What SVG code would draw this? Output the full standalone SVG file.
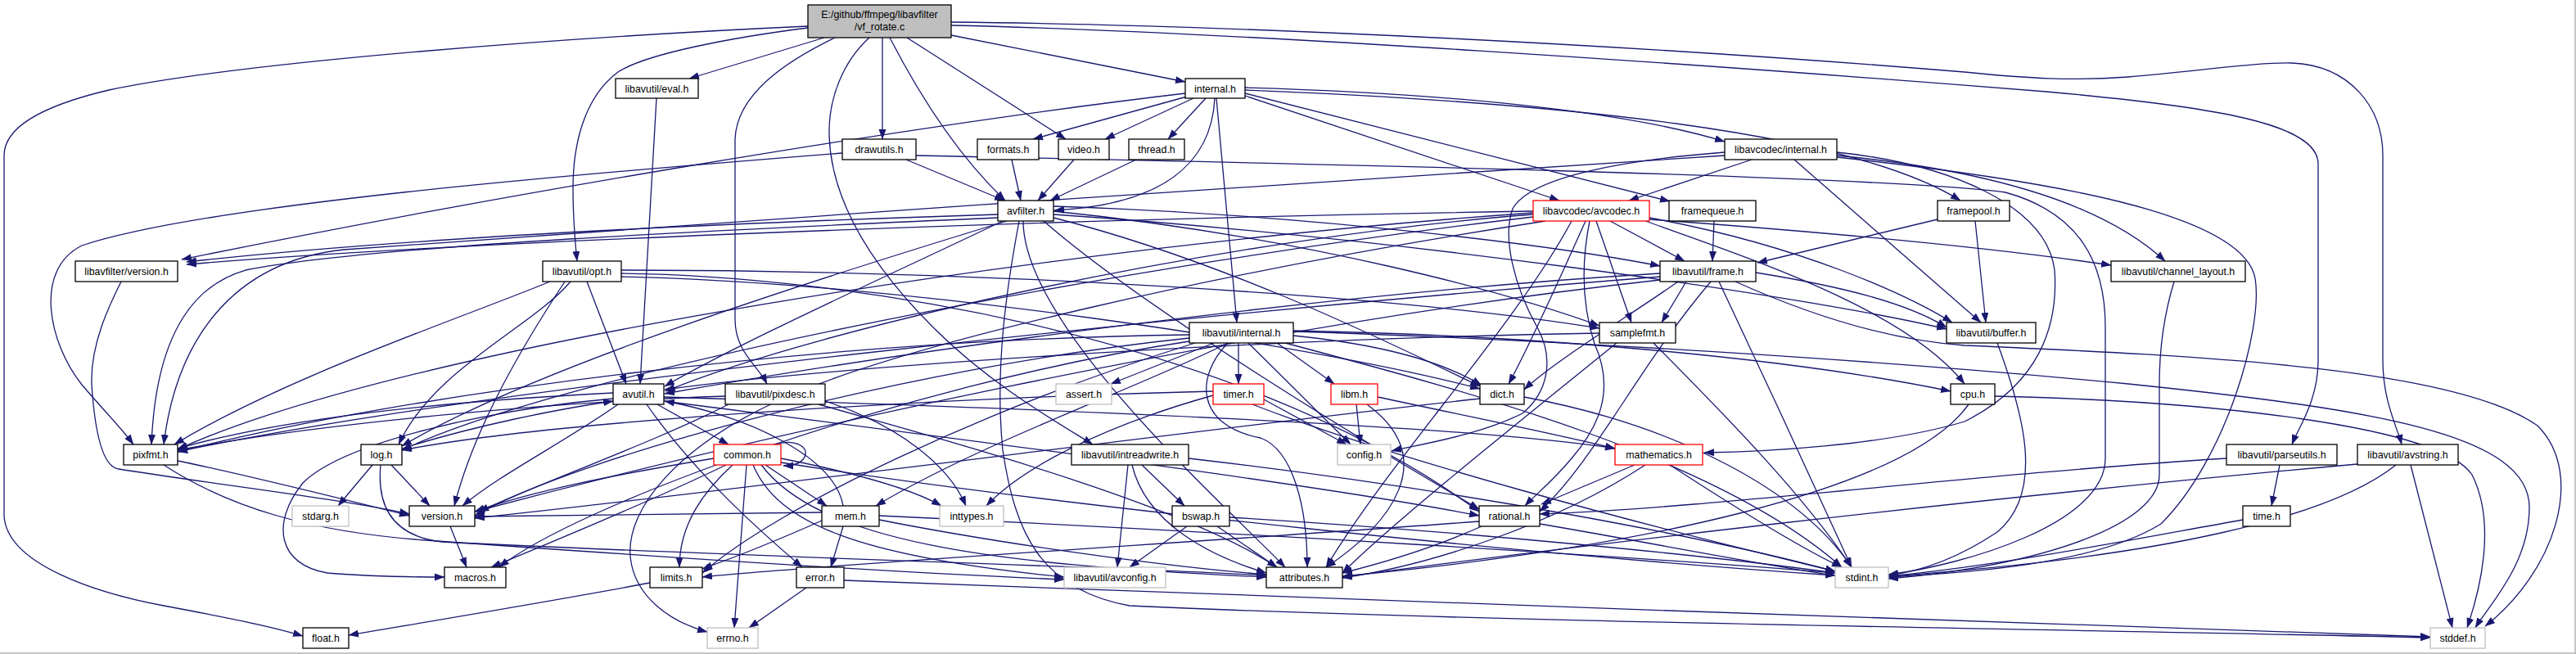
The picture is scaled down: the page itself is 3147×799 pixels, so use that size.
<svg xmlns="http://www.w3.org/2000/svg" width="3147" height="799" viewBox="0 0 3147 799">
<style>
.bg{fill:#ffffff}
.e path{fill:none;stroke:#191970;stroke-width:1.3;marker-end:url(#a)}
.e path.nm{marker-end:none}
.n rect{fill:#ffffff;stroke:#000000;stroke-width:1.3}
.g rect{fill:#ffffff;stroke:#bfbfbf;stroke-width:1.3}
.r rect{fill:#ffffff;stroke:#ff0000;stroke-width:1.3}
.root rect{fill:#bfbfbf;stroke:#000000;stroke-width:1.3}
text{font-family:"Liberation Sans",Arial,Helvetica,sans-serif;font-size:12.4px;fill:#000000;text-anchor:middle}
</style>
<defs>
<marker id="a" markerWidth="13" markerHeight="10" refX="12" refY="5" orient="auto" markerUnits="userSpaceOnUse"><path d="M0,0.5 L12.5,5 L0,9.5 z" fill="#191970"/></marker>
</defs>
<rect class="bg" x="0" y="0" width="3147" height="799"/>
<line x1="3146" y1="0" x2="3146" y2="799" stroke="#b4b4b4" stroke-width="1.5"/>
<line x1="0" y1="798" x2="3147" y2="798" stroke="#b4b4b4" stroke-width="1.5"/>
<g id="connectors" class="e">
<path d="M987,32 C700,45 300,75 133,110 C40,132 5,160 5,190 L5,630 C8,690 120,725 200,740 C280,755 330,765 370,777"/>
<path d="M987,34 C900,45 790,65 755,88 C712,120 700,180 700,230 C700,270 703,300 705,319"/>
<path d="M1007,46 L842,96"/>
<path d="M1020,46 C960,75 900,115 898,170 L898,390 C898,430 925,445 937,469"/>
<path d="M1062,46 C1030,75 1012,120 1013,165 C1015,240 1060,320 1140,400 C1210,470 1290,515 1335,543"/>
<path d="M1078,46 L1078,170"/>
<path d="M1087,46 C1120,110 1165,185 1228,245"/>
<path d="M1108,46 L1302,170"/>
<path d="M1162,43 L1448,100"/>
<path d="M1162,27 C1500,30 2000,55 2400,88 C2480,96 2530,99 2600,94 C2700,85 2760,76 2800,77 C2870,80 2911,130 2911,190 L2911,440 C2911,490 2928,520 2934,543"/>
<path d="M1162,31 C1500,38 2100,80 2500,112 C2700,130 2832,150 2832,200 L2832,440 C2832,490 2808,522 2800,543"/>
<path d="M802,120 L782,469"/>
<path d="M1448,114 C1100,155 600,240 222,317"/>
<path d="M1450,118 L1262,170"/>
<path d="M1458,120 L1350,170"/>
<path d="M1473,120 L1427,170"/>
<path d="M1484,120 C1480,200 1420,250 1288,257"/>
<path d="M1486,120 L1511,394"/>
<path d="M1521,117 L1905,245"/>
<path d="M1521,114 L2040,246"/>
<path d="M1521,110 C1900,125 2260,160 2395,245"/>
<path d="M1521,107 C1800,115 2000,140 2107,173"/>
<path d="M1107,195 L1227,245"/>
<path d="M1029,187 C700,213 250,250 100,300 C40,330 60,420 100,470 C130,505 150,525 163,543"/>
<path d="M1119,190 C1600,200 2300,215 2450,235 C2540,260 2572,320 2572,400 L2572,560 C2572,640 2400,690 2307,702"/>
<path d="M1236,195 L1247,245"/>
<path d="M1312,195 L1268,245"/>
<path d="M1388,195 L1283,245"/>
<path d="M2140,195 L1990,245"/>
<path d="M2107,190 C1700,215 900,270 420,305 C280,320 215,420 200,543"/>
<path d="M2107,186 C1990,195 1870,215 1848,255 C1835,290 1850,350 1878,400 C1900,440 1890,480 1860,505 C1810,530 1750,540 1700,551"/>
<path d="M2192,195 L2420,394"/>
<path d="M2244,190 C2400,205 2560,240 2645,319"/>
<path d="M2244,186 C2380,200 2500,250 2510,330 C2515,400 2490,470 2400,515 C2300,545 2150,552 2082,553"/>
<path d="M2244,192 C2500,220 2740,260 2755,340 C2765,400 2720,560 2640,640 C2560,690 2400,700 2307,705"/>
<path d="M1873,258 C1400,265 600,292 228,323"/>
<path d="M1873,262 C1500,290 1000,400 813,478"/>
<path d="M1873,265 C1400,320 700,450 491,550"/>
<path d="M1873,260 C1300,300 500,420 217,549"/>
<path d="M1888,270 C1500,330 1100,420 950,490 C830,545 765,620 770,680 C775,730 820,760 864,772"/>
<path d="M1937,270 C1910,330 1870,420 1843,469"/>
<path d="M1942,270 C1930,330 1935,380 1948,420 C1975,480 1950,525 1920,560 C1895,590 1875,605 1863,618"/>
<path d="M1950,270 L1993,394"/>
<path d="M1967,270 L2058,319"/>
<path d="M2015,266 C2200,300 2330,360 2385,394"/>
<path d="M2015,268 C2250,285 2450,305 2579,324"/>
<path d="M2010,270 C2150,320 2330,380 2400,469"/>
<path d="M1920,270 C1850,400 1700,560 1620,693"/>
<path d="M2094,270 L2092,319"/>
<path d="M2367,268 L2147,321"/>
<path d="M2413,270 L2426,394"/>
<path d="M148,344 C135,370 110,420 112,470 C114,500 120,570 145,573 C250,590 420,610 500,628"/>
<path d="M717,344 L765,469"/>
<path d="M697,344 C650,400 530,450 487,543"/>
<path d="M672,344 C560,390 350,460 213,543"/>
<path d="M690,344 C640,420 580,520 555,618"/>
<path d="M759,334 C1000,336 1500,400 1807,625"/>
<path d="M759,338 C1100,345 1600,420 1808,475"/>
<path d="M759,330 C1200,330 1700,360 1954,401"/>
<path d="M2028,334 C1600,360 1100,430 812,481"/>
<path d="M2145,333 C2250,350 2330,370 2378,400"/>
<path d="M2050,344 C2000,380 1900,440 1862,476"/>
<path d="M2090,344 C2000,450 1950,560 1881,625"/>
<path d="M2060,344 L2030,394"/>
<path d="M2028,338 C1500,380 600,470 217,552"/>
<path d="M2028,342 C1500,400 900,540 580,625"/>
<path d="M2100,344 C2150,450 2220,600 2262,693"/>
<path d="M2120,344 C2200,380 2300,415 2400,422 C2700,435 3000,450 3100,520 C3160,580 3120,700 3036,765"/>
<path d="M1483,419 L1357,469"/>
<path d="M1513,419 L1513,469"/>
<path d="M1500,419 C1400,470 1200,540 1070,618"/>
<path d="M1500,419 C1460,460 1460,520 1540,535 C1580,550 1597,620 1597,693"/>
<path d="M1525,419 L1650,543"/>
<path d="M1560,419 L1630,469"/>
<path d="M1580,410 C1680,420 1760,440 1810,471"/>
<path d="M1580,404 C1900,410 2200,440 2383,478"/>
<path d="M1570,419 C1800,480 2100,560 2250,693"/>
<path d="M1580,405 C1900,415 2300,440 2600,469 C2900,500 3090,530 3090,620 C3090,690 3040,740 3024,767"/>
<path d="M1453,409 C1000,415 500,480 217,552"/>
<path d="M1453,413 C1100,450 700,560 580,630"/>
<path d="M1453,417 C1100,470 700,620 610,693"/>
<path d="M1460,419 C1200,500 950,620 858,700"/>
<path d="M1954,407 C1500,415 1000,450 812,476"/>
<path d="M1975,419 C1850,520 1700,640 1640,700"/>
<path d="M2020,419 C2100,500 2200,600 2262,693"/>
<path d="M2440,419 C2470,500 2500,600 2440,650 C2380,690 2330,700 2307,703"/>
<path d="M2656,344 C2645,380 2638,420 2638,470 L2638,580 C2638,640 2500,690 2307,707"/>
<path d="M803,494 L890,543"/>
<path d="M790,494 C850,580 930,650 980,693"/>
<path d="M811,490 C1200,540 1600,590 1807,630"/>
<path d="M755,494 C690,540 610,580 565,618"/>
<path d="M749,487 C600,500 420,540 370,590 C330,640 340,690 400,700 C460,705 510,705 543,705"/>
<path d="M811,485 C1300,500 1800,520 1973,548"/>
<path d="M749,480 C550,490 350,510 217,548"/>
<path d="M1008,490 C1100,520 1160,570 1180,618"/>
<path d="M1000,494 C1200,550 1450,620 1560,693"/>
<path d="M886,484 C700,490 400,515 217,550"/>
<path d="M890,494 C800,540 660,590 585,625"/>
<path d="M455,568 L413,618"/>
<path d="M478,568 L525,618"/>
<path d="M491,548 C580,520 680,500 749,490"/>
<path d="M465,568 C460,620 480,655 540,662 C900,680 1300,690 1547,703"/>
<path d="M217,563 C300,580 420,610 500,630"/>
<path d="M200,568 C280,620 380,650 520,660 C800,680 1100,700 1300,708"/>
<path d="M945,543 C975,535 990,548 982,560 C977,567 968,569 957,569"/>
<path d="M912,568 L897,767"/>
<path d="M895,568 C860,600 830,640 830,693"/>
<path d="M872,560 C750,580 650,600 580,625"/>
<path d="M887,568 C800,610 680,660 600,693"/>
<path d="M935,568 L1010,618"/>
<path d="M954,560 C1030,575 1110,595 1150,618"/>
<path d="M920,568 C950,640 1050,680 1300,705"/>
<path d="M930,568 C1000,660 1200,690 1547,705"/>
<path d="M954,565 C1300,620 1900,680 2242,703"/>
<path d="M550,643 L570,693"/>
<path d="M1030,618 C1020,560 920,510 812,490"/>
<path d="M1030,643 L1015,693"/>
<path d="M1004,636 C950,660 900,680 858,695"/>
<path d="M1004,626 L580,631"/>
<path d="M1074,635 C1200,660 1400,690 1547,702"/>
<path d="M1074,630 C1500,650 2000,680 2242,700"/>
<path d="M985,718 L915,767"/>
<path d="M1031,709 C1500,730 2500,760 2969,778"/>
<path d="M1807,637 C1500,660 1000,690 858,705"/>
<path d="M1810,643 C1750,670 1680,690 1640,700"/>
<path d="M1881,640 C2000,660 2150,690 2242,703"/>
<path d="M1997,568 L1883,616"/>
<path d="M2010,568 C1900,640 1750,690 1640,706"/>
<path d="M2040,568 C2120,620 2200,670 2250,693"/>
<path d="M1378,568 L1365,693"/>
<path d="M1395,568 L1447,618"/>
<path d="M1383,568 C1400,640 1480,680 1547,700"/>
<path d="M1452,560 C1800,600 2100,660 2242,698"/>
<path d="M1450,643 L1380,693"/>
<path d="M1487,643 L1560,693"/>
<path d="M1502,632 C1800,650 2100,680 2242,700"/>
<path d="M1544,488 L1645,543"/>
<path d="M1482,483 C1350,520 1250,570 1205,618"/>
<path d="M1482,478 C1200,485 700,510 491,550"/>
<path d="M1530,494 C1700,560 2000,640 2242,698"/>
<path d="M1657,494 L1662,543"/>
<path d="M1670,494 C1760,560 1700,640 1620,693"/>
<path d="M1683,485 C1800,510 1900,530 1973,548"/>
<path d="M1862,485 C2050,520 2200,600 2262,693"/>
<path d="M1808,487 C1500,520 900,600 580,633"/>
<path d="M2405,494 C2330,600 2000,670 1640,704"/>
<path d="M2437,484 C2700,490 2980,520 3020,580 C3050,640 3030,720 3014,767"/>
<path d="M2785,568 L2775,618"/>
<path d="M2720,560 C2400,580 2100,620 1881,628"/>
<path d="M2945,568 L2996,767"/>
<path d="M2927,568 C2850,630 2650,680 2307,704"/>
<path d="M2880,567 C2400,610 1900,670 1640,705"/>
<path d="M2740,635 C2600,660 2450,690 2307,704"/>
<path d="M794,712 C700,730 550,755 426,776"/>
<path d="M1225,270 C1100,330 900,420 812,472"/>
<path d="M1287,262 C1700,290 2200,360 2378,402"/>
<path d="M1287,266 C1500,320 1700,420 1808,472"/>
<path d="M1287,252 C1600,262 1900,300 2028,325"/>
<path d="M1230,270 C1000,340 650,450 491,545"/>
<path d="M1287,258 C1600,290 1850,360 1954,398"/>
<path d="M1275,270 C1400,380 1700,560 1807,622"/>
<path d="M1250,270 C1250,400 1500,620 1570,693"/>
<path d="M1245,270 C1230,350 1215,450 1225,550 C1240,650 1270,720 1380,740 C1800,760 2600,770 2969,779"/>
<path d="M1219,266 C900,280 450,300 300,330 C230,350 190,420 185,543"/>
<path d="M1219,262 C900,272 500,290 228,320"/>
</g>
<g id="n_root" class="root"><rect x="987" y="6" width="175" height="40"/><text x="1074.5" y="22">E:/github/ffmpeg/libavfilter</text><text x="1074.5" y="37">/vf_rotate.c</text></g>
<g id="n_eval" class="n"><rect x="752" y="96" width="101" height="24"/><text x="802.5" y="112.5">libavutil/eval.h</text></g>
<g id="n_internal" class="n"><rect x="1448" y="96" width="73" height="24"/><text x="1484.5" y="112.5">internal.h</text></g>
<g id="n_drawutils" class="n"><rect x="1029" y="170" width="90" height="25"/><text x="1074" y="187">drawutils.h</text></g>
<g id="n_formats" class="n"><rect x="1194" y="170" width="75" height="25"/><text x="1231.5" y="187">formats.h</text></g>
<g id="n_video" class="n"><rect x="1293" y="170" width="62" height="25"/><text x="1324" y="187">video.h</text></g>
<g id="n_thread" class="n"><rect x="1379" y="170" width="68" height="25"/><text x="1413" y="187">thread.h</text></g>
<g id="n_lavc_internal" class="n"><rect x="2107" y="170" width="137" height="25"/><text x="2175.5" y="187">libavcodec/internal.h</text></g>
<g id="n_avfilter" class="n"><rect x="1219" y="245" width="68" height="25"/><text x="1253" y="262">avfilter.h</text></g>
<g id="n_avcodec" class="r"><rect x="1873" y="245" width="142" height="25"/><text x="1944" y="262">libavcodec/avcodec.h</text></g>
<g id="n_framequeue" class="n"><rect x="2039" y="245" width="106" height="25"/><text x="2092" y="262">framequeue.h</text></g>
<g id="n_framepool" class="n"><rect x="2367" y="245" width="88" height="25"/><text x="2411" y="262">framepool.h</text></g>
<g id="n_lavfi_version" class="n"><rect x="92" y="319" width="125" height="25"/><text x="154.5" y="336">libavfilter/version.h</text></g>
<g id="n_opt" class="n"><rect x="663" y="319" width="96" height="25"/><text x="711" y="336">libavutil/opt.h</text></g>
<g id="n_frame" class="n"><rect x="2028" y="319" width="117" height="25"/><text x="2086.5" y="336">libavutil/frame.h</text></g>
<g id="n_channel_layout" class="n"><rect x="2579" y="319" width="164" height="25"/><text x="2661" y="336">libavutil/channel_layout.h</text></g>
<g id="n_lavu_internal" class="n"><rect x="1453" y="394" width="127" height="25"/><text x="1516.5" y="411">libavutil/internal.h</text></g>
<g id="n_samplefmt" class="n"><rect x="1954" y="394" width="93" height="25"/><text x="2000.5" y="411">samplefmt.h</text></g>
<g id="n_buffer" class="n"><rect x="2378" y="394" width="109" height="25"/><text x="2432.5" y="411">libavutil/buffer.h</text></g>
<g id="n_avutil" class="n"><rect x="749" y="469" width="62" height="25"/><text x="780" y="486">avutil.h</text></g>
<g id="n_pixdesc" class="n"><rect x="886" y="469" width="122" height="25"/><text x="947" y="486">libavutil/pixdesc.h</text></g>
<g id="n_assert" class="g"><rect x="1290" y="469" width="68" height="25"/><text x="1324" y="486">assert.h</text></g>
<g id="n_timer" class="r"><rect x="1482" y="469" width="62" height="25"/><text x="1513" y="486">timer.h</text></g>
<g id="n_libm" class="r"><rect x="1626" y="469" width="57" height="25"/><text x="1654.5" y="486">libm.h</text></g>
<g id="n_dict" class="n"><rect x="1808" y="469" width="54" height="25"/><text x="1835" y="486">dict.h</text></g>
<g id="n_cpu" class="n"><rect x="2383" y="469" width="54" height="25"/><text x="2410" y="486">cpu.h</text></g>
<g id="n_pixfmt" class="n"><rect x="151" y="543" width="66" height="25"/><text x="184" y="560">pixfmt.h</text></g>
<g id="n_log" class="n"><rect x="441" y="543" width="50" height="25"/><text x="466" y="560">log.h</text></g>
<g id="n_common" class="r"><rect x="872" y="543" width="82" height="25"/><text x="913" y="560">common.h</text></g>
<g id="n_intreadwrite" class="n"><rect x="1309" y="543" width="143" height="25"/><text x="1380.5" y="560">libavutil/intreadwrite.h</text></g>
<g id="n_config" class="g"><rect x="1634" y="543" width="65" height="25"/><text x="1666.5" y="560">config.h</text></g>
<g id="n_mathematics" class="r"><rect x="1973" y="543" width="107" height="25"/><text x="2026.5" y="560">mathematics.h</text></g>
<g id="n_parseutils" class="n"><rect x="2720" y="543" width="135" height="25"/><text x="2787.5" y="560">libavutil/parseutils.h</text></g>
<g id="n_avstring" class="n"><rect x="2880" y="543" width="123" height="25"/><text x="2941.5" y="560">libavutil/avstring.h</text></g>
<g id="n_stdarg" class="g"><rect x="357" y="618" width="69" height="25"/><text x="391.5" y="635">stdarg.h</text></g>
<g id="n_version" class="n"><rect x="500" y="618" width="80" height="25"/><text x="540" y="635">version.h</text></g>
<g id="n_mem" class="n"><rect x="1004" y="618" width="70" height="25"/><text x="1039" y="635">mem.h</text></g>
<g id="n_inttypes" class="g"><rect x="1148" y="618" width="78" height="25"/><text x="1187" y="635">inttypes.h</text></g>
<g id="n_bswap" class="n"><rect x="1432" y="618" width="70" height="25"/><text x="1467" y="635">bswap.h</text></g>
<g id="n_rational" class="n"><rect x="1807" y="618" width="74" height="25"/><text x="1844" y="635">rational.h</text></g>
<g id="n_time" class="n"><rect x="2740" y="618" width="58" height="25"/><text x="2769" y="635">time.h</text></g>
<g id="n_macros" class="n"><rect x="543" y="693" width="75" height="25"/><text x="580.5" y="710">macros.h</text></g>
<g id="n_limits" class="n"><rect x="794" y="693" width="64" height="25"/><text x="826" y="710">limits.h</text></g>
<g id="n_error" class="n"><rect x="973" y="693" width="58" height="25"/><text x="1002" y="710">error.h</text></g>
<g id="n_avconfig" class="g"><rect x="1300" y="693" width="124" height="25"/><text x="1362" y="710">libavutil/avconfig.h</text></g>
<g id="n_attributes" class="n"><rect x="1547" y="693" width="93" height="25"/><text x="1593.5" y="710">attributes.h</text></g>
<g id="n_stdint" class="g"><rect x="2242" y="693" width="65" height="25"/><text x="2274.5" y="710">stdint.h</text></g>
<g id="n_float" class="n"><rect x="370" y="767" width="56" height="25"/><text x="398" y="784">float.h</text></g>
<g id="n_errno" class="g"><rect x="864" y="767" width="62" height="25"/><text x="895" y="784">errno.h</text></g>
<g id="n_stddef" class="g"><rect x="2969" y="767" width="67" height="25"/><text x="3002.5" y="784">stddef.h</text></g>
</svg>
